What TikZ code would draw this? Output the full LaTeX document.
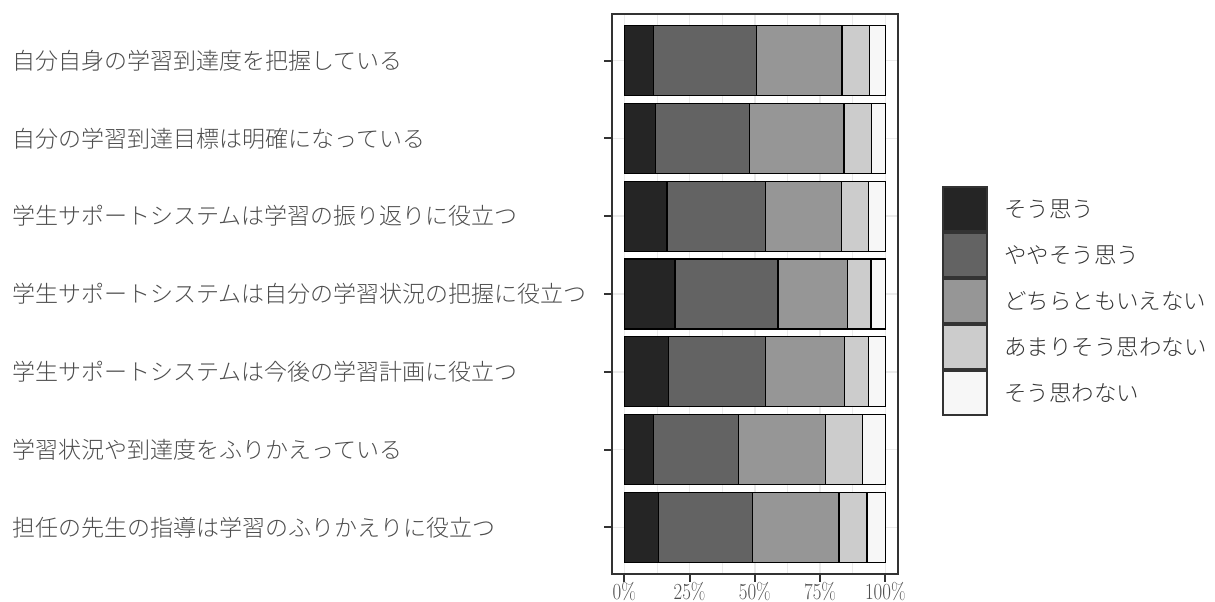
\documentclass[tikz,border=0pt]{standalone}
\usepackage{fontspec}
\newfontfamily\jp{Noto Sans CJK JP Light}
\definecolor{cA}{HTML}{252525}
\definecolor{cB}{HTML}{636363}
\definecolor{cC}{HTML}{969696}
\definecolor{cD}{HTML}{CCCCCC}
\definecolor{cE}{HTML}{F7F7F7}
\definecolor{axistext}{HTML}{4D4D4D}
\definecolor{frame}{HTML}{333333}
\definecolor{gridmaj}{HTML}{EBEBEB}
\tikzset{
  gridmajor/.style={draw=gridmaj, line width=1.6pt},
  gridminor/.style={draw=gridmaj, line width=0.8pt},
  barseg/.style={draw=black, line width=1.4pt},
  keybox/.style={draw=frame, line width=1.3pt},
  ylab/.style={anchor=west, inner sep=0pt, text=axistext, font=\jp\fontsize{23}{24}\selectfont},
  leglab/.style={anchor=west, inner sep=0pt, text=frame, font=\jp\fontsize{22.5}{24}\selectfont},
  xlab/.style={anchor=base, inner sep=0pt, text=axistext, font=\fontsize{23}{24}\selectfont},
  tickline/.style={draw=frame, line width=2pt}
}
\begin{document}
\begin{tikzpicture}[x=1pt,y=-1pt]
\useasboundingbox (0,0) rectangle (1215,602);
% grid
\foreach \p in {12.5,37.5,62.5,87.5}
  \draw[gridminor] ({624.3+2.61*\p},14) -- ({624.3+2.61*\p},574);
\foreach \p in {0,25,50,75,100}
  \draw[gridmajor] ({624.3+2.61*\p},14) -- ({624.3+2.61*\p},574);
\foreach \k in {0,...,6}
  \draw[gridmajor] (612,{60.7+77.77*\k}) -- (898,{60.7+77.77*\k});
% bars
\foreach \a/\b/\c/\d [count=\k from 0] in {
  11.1/50.6/83.4/93.9,
  11.9/48.0/84.2/94.6,
  16.4/54.2/83.3/93.6,
  19.4/58.9/85.4/94.5,
  17.0/54.2/84.4/93.6,
  11.2/43.7/77.0/91.2,
  13.2/49.0/82.2/93.0}{
  \pgfmathsetmacro\yc{60.7+77.77*\k}
  \draw[barseg, fill=cA] (624.3,\yc-35) rectangle ({624.3+2.61*\a},\yc+35);
  \draw[barseg, fill=cB] ({624.3+2.61*\a},\yc-35) rectangle ({624.3+2.61*\b},\yc+35);
  \draw[barseg, fill=cC] ({624.3+2.61*\b},\yc-35) rectangle ({624.3+2.61*\c},\yc+35);
  \draw[barseg, fill=cD] ({624.3+2.61*\c},\yc-35) rectangle ({624.3+2.61*\d},\yc+35);
  \draw[barseg, fill=cE] ({624.3+2.61*\d},\yc-35) rectangle (885.3,\yc+35);
  \draw[tickline] (604,\yc) -- (612,\yc);
}
% panel frame
\draw[draw=frame, line width=1.8pt] (612,14) rectangle (898,574);
% x ticks and labels
\foreach \p/\t in {0/0\%,25/25\%,50/50\%,75/75\%,100/100\%}{
  \draw[tickline] ({624.3+2.61*\p},574) -- ({624.3+2.61*\p},582);
  \node[xlab] (x\p) at ({624.3+2.61*\p},599.5) {\scalebox{0.82}[1]{\t}};
}
% y labels
\node[ylab] (l1) at (12,60.7) {自分自身の学習到達度を把握している};
\node[ylab] (l2) at (12,138.47) {自分の学習到達目標は明確になっている};
\node[ylab] (l3) at (12,216.24) {学生サポートシステムは学習の振り返りに役立つ};
\node[ylab] (l4) at (12,294.01) {学生サポートシステムは自分の学習状況の把握に役立つ};
\node[ylab] (l5) at (12,371.78) {学生サポートシステムは今後の学習計画に役立つ};
\node[ylab] (l6) at (12,449.55) {学習状況や到達度をふりかえっている};
\node[ylab] (l7) at (12,527.32) {担任の先生の指導は学習のふりかえりに役立つ};
% legend
\foreach \col/\txt [count=\j from 0] in {cA/そう思う, cB/ややそう思う, cC/どちらともいえない, cD/あまりそう思わない, cE/そう思わない}{
  \pgfmathsetmacro\yk{209+46*\j}
  \draw[keybox, fill=\col] (943,\yk-22) rectangle (987,\yk+22);
  \node[leglab] (k\j) at (1004,\yk) {\txt};
}
\end{tikzpicture}
\end{document}
